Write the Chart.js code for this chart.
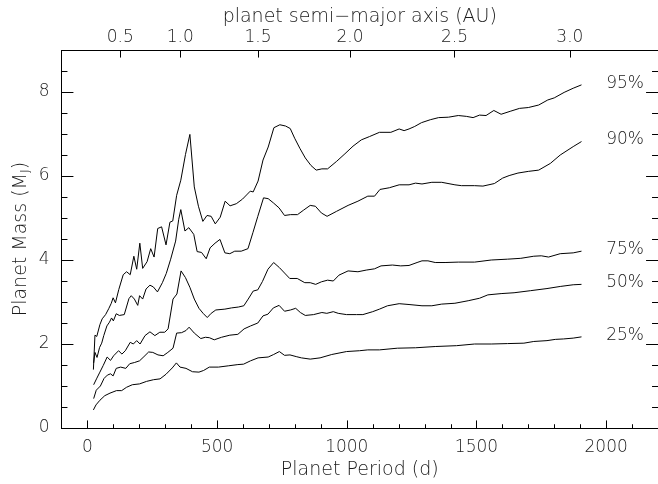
<!DOCTYPE html>
<html>
<head>
<meta charset="utf-8">
<script src="https://cdn.jsdelivr.net/npm/chart.js@4.4.1/dist/chart.umd.min.js"></script>
<style>
  html, body { margin: 0; padding: 0; background: #fff; }
  canvas { display: block; }
</style>
</head>
<body>
<canvas id="massChart" width="658" height="484"></canvas>
<script>
// mass percentiles vs orbital period (days), one pair of arrays per curve
const p95 = [23,29,36,48,57,70,82,92,99,108,121,138,151,165,179,190,202,213,230,244,257,271,286,303,318,329,344,360,378,395,412,428,445,461,477,493,512,531,550,574,598,617,628,639,658,677,697,719,742,764,782,799,819,840,862,882,904,926,961,993,1024,1056,1088,1126,1170,1202,1221,1240,1262,1288,1322,1354,1392,1430,1461,1487,1512,1537,1567,1595,1630,1666,1700,1740,1775,1800,1838,1873,1905];
const m95 = [1.39,2.21,2.18,2.46,2.60,2.70,2.84,2.97,3.10,2.98,3.30,3.65,3.72,3.65,4.09,3.78,4.40,3.80,3.96,4.27,4.07,4.75,4.79,4.36,4.90,4.93,5.54,5.90,6.51,6.99,5.74,5.28,4.92,5.06,5.04,4.86,5.02,5.40,5.29,5.34,5.45,5.57,5.64,5.62,5.88,6.38,6.69,7.15,7.22,7.19,7.13,6.90,6.66,6.43,6.25,6.14,6.17,6.17,6.35,6.53,6.71,6.86,6.94,7.04,7.04,7.12,7.08,7.12,7.18,7.27,7.34,7.39,7.40,7.44,7.42,7.39,7.45,7.44,7.56,7.47,7.54,7.61,7.63,7.69,7.81,7.86,7.99,8.09,8.17];

const p90 = [24,29,37,47,55,63,75,85,93,100,111,123,142,160,169,181,194,201,213,226,241,254,270,289,304,321,340,352,360,376,391,410,423,440,458,473,492,511,530,549,568,593,619,638,657,679,697,717,739,760,783,810,834,859,879,902,924,961,1005,1043,1081,1107,1128,1164,1202,1240,1265,1290,1328,1366,1417,1442,1493,1525,1569,1601,1626,1660,1700,1740,1785,1823,1873,1905];
const m90 = [1.55,1.80,1.68,1.92,2.02,2.20,2.43,2.52,2.62,2.55,2.72,2.68,2.70,3.08,3.15,3.07,2.92,3.15,3.07,3.31,3.40,3.36,3.24,3.46,3.68,4.02,4.45,4.97,5.20,4.69,4.77,4.61,4.20,4.18,4.03,4.29,4.40,4.49,4.17,4.15,4.21,4.21,4.27,4.65,5.04,5.48,5.46,5.36,5.24,5.06,5.08,5.08,5.19,5.30,5.28,5.12,5.04,5.16,5.30,5.40,5.52,5.52,5.68,5.72,5.79,5.79,5.83,5.81,5.85,5.85,5.79,5.77,5.77,5.76,5.82,5.95,6.01,6.07,6.11,6.14,6.30,6.50,6.70,6.82];

const p75 = [24,35,48,61,76,89,101,120,133,146,165,177,190,203,222,241,260,279,298,311,330,345,361,378,395,412,430,446,462,477,495,530,556,582,603,620,639,657,675,696,718,740,760,780,809,838,859,880,902,926,948,970,1005,1043,1075,1107,1132,1176,1208,1240,1271,1290,1313,1341,1379,1430,1493,1557,1620,1671,1721,1750,1778,1823,1873,1905];
const m75 = [1.03,1.17,1.33,1.49,1.69,1.61,1.72,1.84,1.76,1.84,2.04,2.00,2.08,2.00,2.20,2.29,2.20,2.28,2.28,2.36,3.07,3.19,3.74,3.58,3.35,3.07,2.85,2.73,2.63,2.73,2.81,2.83,2.86,2.88,2.91,3.07,3.26,3.29,3.49,3.78,3.94,3.82,3.69,3.56,3.56,3.46,3.46,3.42,3.48,3.52,3.50,3.64,3.74,3.72,3.76,3.79,3.86,3.88,3.86,3.87,3.94,3.98,3.98,3.94,3.94,3.95,3.95,4.00,4.02,4.04,4.09,4.10,4.07,4.15,4.17,4.21];

const p50 = [24,34,50,64,77,89,99,111,128,148,163,182,201,218,236,252,272,292,310,330,344,363,380,392,412,437,455,470,489,517,549,580,604,629,657,677,696,717,739,760,783,803,821,840,872,904,923,948,967,999,1037,1062,1100,1126,1157,1202,1240,1290,1328,1366,1417,1468,1512,1544,1595,1645,1709,1772,1823,1873,1905];
const m50 = [0.70,0.90,1.00,1.18,1.26,1.29,1.24,1.42,1.45,1.42,1.53,1.56,1.60,1.70,1.81,1.80,1.74,1.72,1.80,1.90,2.26,2.27,2.32,2.40,2.26,2.13,2.16,2.15,2.10,2.16,2.21,2.23,2.36,2.43,2.50,2.67,2.71,2.86,2.92,2.78,2.81,2.85,2.75,2.68,2.70,2.75,2.73,2.77,2.73,2.70,2.70,2.70,2.77,2.83,2.91,2.96,2.94,2.91,2.91,2.95,2.97,3.03,3.09,3.17,3.20,3.22,3.27,3.32,3.37,3.41,3.42];

const p25 = [23,33,48,67,87,112,132,151,173,201,228,255,280,303,327,343,357,380,405,430,448,470,505,543,580,602,629,658,697,718,740,760,781,805,825,859,897,942,999,1049,1081,1126,1195,1265,1341,1423,1493,1557,1620,1683,1721,1772,1804,1835,1873,1905];
const m25 = [0.43,0.55,0.66,0.77,0.83,0.89,0.89,0.97,1.03,1.05,1.11,1.15,1.17,1.28,1.43,1.55,1.45,1.42,1.34,1.33,1.37,1.45,1.45,1.48,1.51,1.52,1.60,1.67,1.69,1.75,1.82,1.73,1.74,1.70,1.67,1.64,1.67,1.75,1.82,1.84,1.86,1.86,1.90,1.91,1.94,1.96,2.00,2.00,2.01,2.02,2.06,2.08,2.11,2.12,2.14,2.17];

const percentLabels = ["95%", "90%", "75%", "50%", "25%"];
const periodTicks = [0, 500, 1000, 1500, 2000];
const massTicks = [0, 2, 4, 6, 8];
const auTicks = [0.5, 1.0, 1.5, 2.0, 2.5, 3.0];
const auLabels = ["0.5", "1.0", "1.5", "2.0", "2.5", "3.0"];
const keplerK = 358; // period in days of a 1 AU orbit for this star

const FONT = "'DejaVu Sans', sans-serif";
const WEIGHT = "200"; // picks the ExtraLight face when it is installed
const INK = "#000";
const TEXT = "#1a1a1a";

const curves = [[p95, m95], [p90, m90], [p75, m75], [p50, m50], [p25, m25]];

// IDL style ticks pointing into the plot box
const inwardTicks = {
    id: "inwardTicks",
    afterDraw(chart) {
        const { ctx, chartArea: a, scales } = chart;
        const xLen = 0.02 * (a.bottom - a.top);
        const yLen = 0.02 * (a.right - a.left);
        ctx.save();
        ctx.strokeStyle = INK;
        ctx.lineWidth = 1;
        ctx.beginPath();
        for (let v = 0; v <= 2200; v += 100) {
            const x = Math.round(scales.x.getPixelForValue(v)) + 0.5;
            const len = v % 500 === 0 ? xLen : xLen / 2;
            ctx.moveTo(x, a.bottom);
            ctx.lineTo(x, a.bottom - len);
        }
        auTicks.forEach(au => {
            const x = Math.round(scales.x2.getPixelForValue(keplerK * Math.pow(au, 1.5))) + 0.5;
            ctx.moveTo(x, a.top);
            ctx.lineTo(x, a.top + xLen);
        });
        for (let v = 0.5; v < 9; v += 0.5) {
            const y = Math.round(scales.y.getPixelForValue(v)) + 0.5;
            const len = v % 2 === 0 ? yLen : yLen / 2;
            ctx.moveTo(a.left, y);
            ctx.lineTo(a.left + len, y);
            ctx.moveTo(a.right, y);
            ctx.lineTo(a.right - len, y);
        }
        ctx.stroke();
        ctx.restore();
    }
};

// curve names next to the line ends, and the y title with its subscript
const annotations = {
    id: "annotations",
    afterDraw(chart) {
        const { ctx, chartArea: a, scales } = chart;
        const font = size => WEIGHT + " " + size + "px " + FONT;
        ctx.save();
        ctx.fillStyle = TEXT;
        ctx.font = font(17);
        ctx.textAlign = "left";
        ctx.textBaseline = "middle";
        curves.forEach(([, m], i) => {
            const x = scales.x.getPixelForValue(2000);
            const y = scales.y.getPixelForValue(m[m.length - 1] + 0.04);
            ctx.fillText(percentLabels[i], x, y);
        });

        ctx.translate(21, (a.top + a.bottom) / 2);
        ctx.rotate(-Math.PI / 2);
        const main = "Planet Mass (M";
        ctx.font = font(19);
        const w1 = ctx.measureText(main).width;
        const w3 = ctx.measureText(")").width;
        ctx.font = font(13);
        const w2 = ctx.measureText("J").width;
        let x = -(w1 + w2 + w3) / 2;
        ctx.font = font(19);
        ctx.fillText(main, x, 0);
        x += w1;
        ctx.font = font(13);
        ctx.fillText("J", x, 5);
        x += w2;
        ctx.font = font(19);
        ctx.fillText(")", x, 0);
        ctx.restore();
    }
};

const ctx = document.getElementById("massChart");

new Chart(ctx, {
    type: "line",
    data: {
        datasets: curves.map(([p, m], i) => ({
            label: percentLabels[i],
            data: p.map((d, j) => ({ x: d, y: m[j] })),
            borderColor: INK,
            borderWidth: 1,
            pointRadius: 0,
            tension: 0,
            fill: false
        }))
    },
    options: {
        responsive: false,
        animation: false,
        events: [],
        layout: { padding: { left: 0, top: 0, right: -8, bottom: 0 } },
        plugins: {
            legend: { display: false },
            tooltip: { enabled: false }
        },
        scales: {
            x: {
                type: "linear",
                position: "bottom",
                min: -100,
                max: 2200,
                grid: { display: false, drawTicks: false },
                border: { display: true, color: INK, width: 1 },
                afterBuildTicks: s => { s.ticks = periodTicks.map(v => ({ value: v })); },
                afterFit: s => { s.height = 56; },
                ticks: {
                    autoSkip: false,
                    maxRotation: 0,
                    padding: 9,
                    color: TEXT,
                    font: { family: FONT, size: 17, weight: WEIGHT },
                    callback: v => String(v)
                },
                title: {
                    display: true,
                    text: "Planet Period (d)",
                    color: TEXT,
                    font: { family: FONT, size: 19, weight: WEIGHT },
                    padding: { top: 0, bottom: 3 }
                }
            },
            x2: {
                type: "linear",
                position: "top",
                min: -100,
                max: 2200,
                grid: { display: false, drawTicks: false },
                border: { display: true, color: INK, width: 1 },
                afterBuildTicks: s => {
                    s.ticks = auTicks.map(au => ({ value: keplerK * Math.pow(au, 1.5) }));
                },
                afterFit: s => { s.height = 50; },
                ticks: {
                    autoSkip: false,
                    maxRotation: 0,
                    padding: 2,
                    color: TEXT,
                    font: { family: FONT, size: 17, weight: WEIGHT },
                    callback: (v, i) => auLabels[i]
                },
                title: {
                    display: true,
                    text: "planet semi−major axis (AU)",
                    color: TEXT,
                    font: { family: FONT, size: 19, weight: WEIGHT },
                    padding: { top: 6, bottom: 0 }
                }
            },
            y: {
                type: "linear",
                position: "left",
                min: 0,
                max: 9,
                grid: { display: false, drawTicks: false },
                border: { display: true, color: INK, width: 1 },
                afterBuildTicks: s => { s.ticks = massTicks.map(v => ({ value: v })); },
                afterFit: s => { s.width = 61.5; },
                ticks: {
                    padding: 12,
                    color: TEXT,
                    font: { family: FONT, size: 17, weight: WEIGHT },
                    callback: v => String(v)
                }
            }
        }
    },
    plugins: [inwardTicks, annotations]
});
</script>
</body>
</html>
